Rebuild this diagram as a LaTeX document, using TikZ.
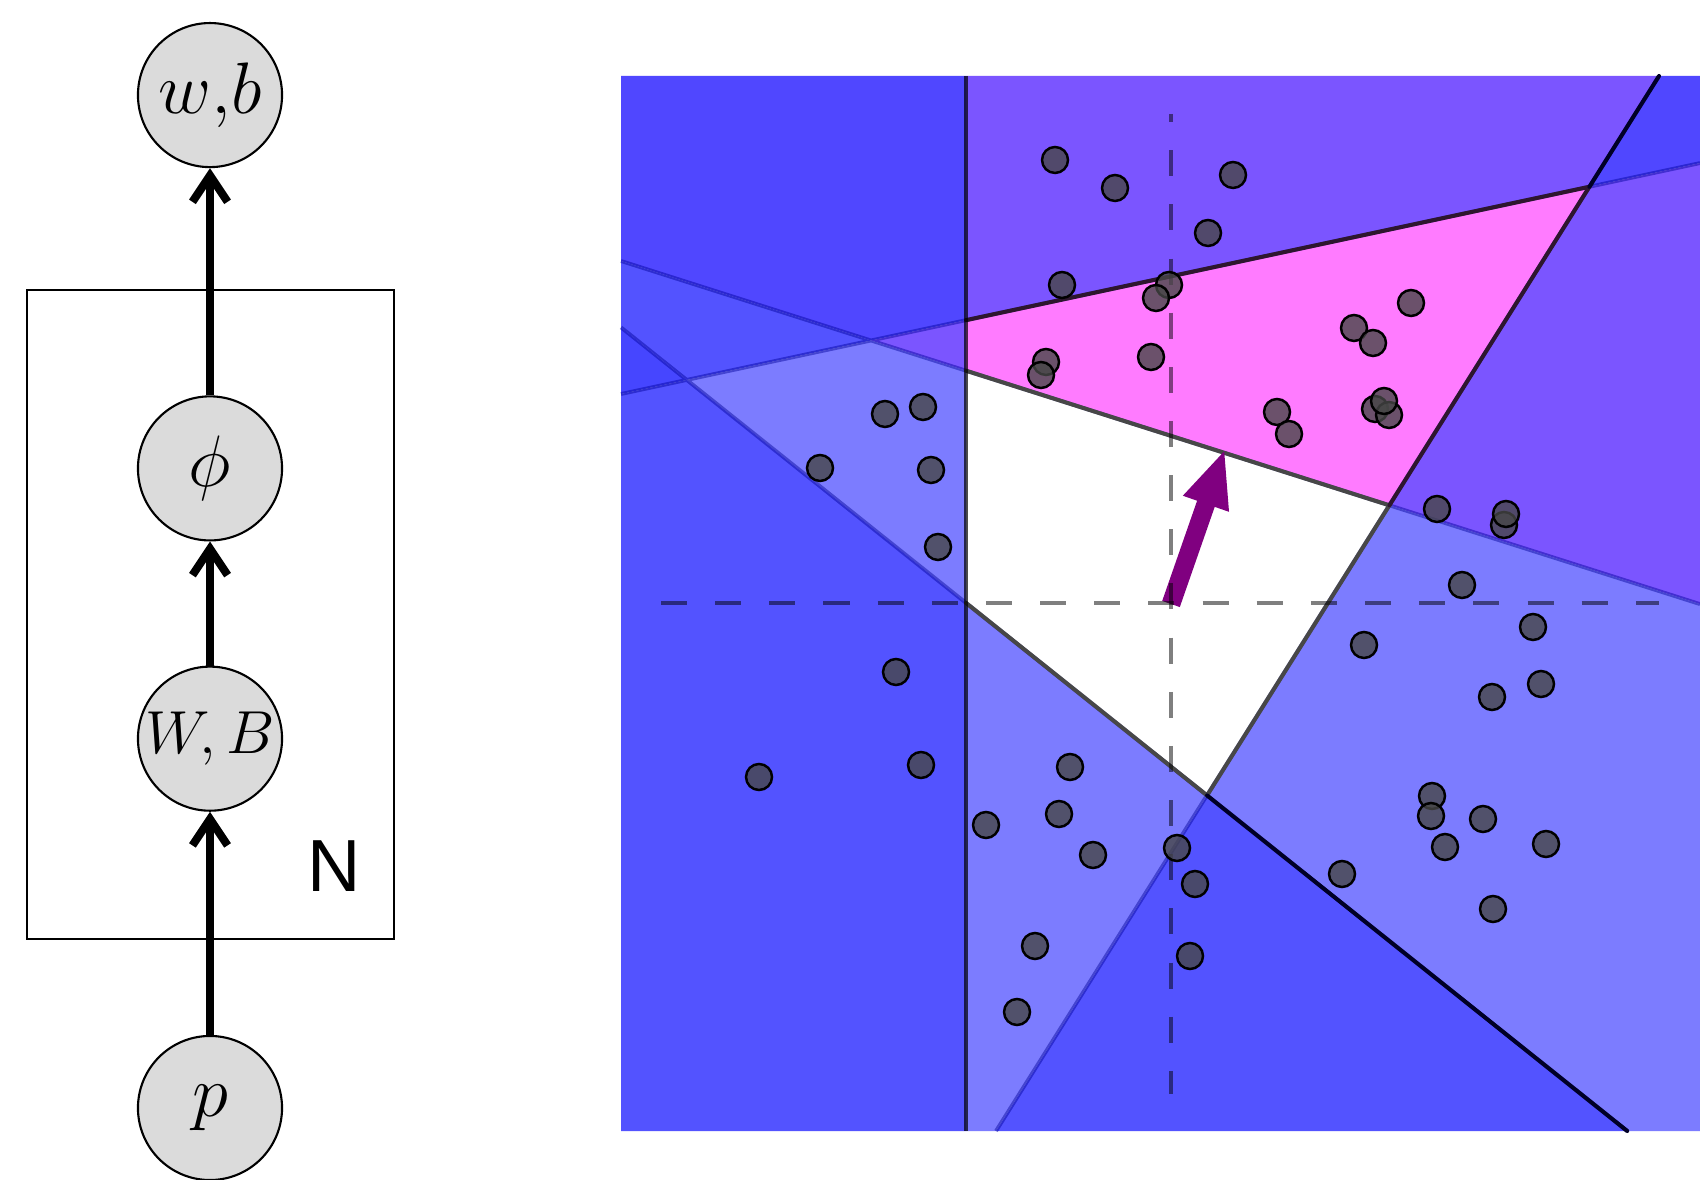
\documentclass[tikz,border=0pt]{standalone}
\usepackage{amsmath}
\usepackage{fontspec}
\newfontfamily\platefont{Liberation Sans}
\usetikzlibrary{arrows.meta, positioning, calc}

\definecolor{oneblue}{HTML}{7C7CFF}
\definecolor{twoblue}{HTML}{5353FF}
\definecolor{threeblue}{HTML}{5047FF}
\definecolor{deepblue}{HTML}{4646FF}
\definecolor{violet}{HTML}{7B55FF}
\definecolor{pinkreg}{HTML}{FF7BFF}
\definecolor{normalcol}{HTML}{800080}

\begin{document}
\begin{tikzpicture}[x=0.01cm, y=-0.01cm,
      latent/.style={circle, draw, line width=0.6pt, fill=black!14,
                     minimum size=1.44cm, inner sep=0pt,
                     font=\fontsize{20.74}{24}\selectfont},
      link/.style={-{Straight Barb[length=7.5pt,width=10pt]}, line width=2.3pt},
      faint/.style={draw=blue!60!black, draw opacity=0.45, line width=1.1pt},
      rim/.style={line width=1.15pt, line cap=round},
      axis/.style={black, opacity=0.5, line width=1.15pt,
                   dash pattern=on 7.4pt off 8pt},
      dot/.style={draw=black, line width=0.7pt, fill=black!72, fill opacity=0.8},
      normal/.style={normalcol, line width=5.3pt,
                     -{Triangle[length=16.5pt,width=12.5pt]}}
    ]
    \fill[white] (0,0) rectangle (1700,1180);
    \useasboundingbox (0,0) rectangle (1700,1180);

    % graphical model
    \node[latent] (p) at (210,1108) {$p$};
    \node[latent, above=2.23cm of p, font=\fontsize{17.28}{21}\selectfont]
          (WB) {$W, B$};
    \node[latent, above=1.24cm of WB] (phi) {$\phi$};
    \node[latent, above=2.27cm of phi] (wb) {$w{,}b$};
    \draw[line width=0.6pt] (27,290) rectangle (394,939);
    \node[font=\platefont\fontsize{21}{25}\selectfont] (N) at (334,866) {N};
    \draw[link] (p) -- (WB);
    \draw[link] (WB) -- (phi);
    \draw[link] (phi) -- (wb);

    % constraint lines
    \coordinate (tl) at (621,76);   \coordinate (tr) at (1700,76);
    \coordinate (bl) at (621,1131); \coordinate (br) at (1700,1131);
    \coordinate (vT) at (966,76);   \coordinate (vB) at (966,1131);
    \coordinate (bL) at (621,261);  \coordinate (bR) at (1700,604.1);
    \coordinate (cL) at (621,394);  \coordinate (cR) at (1700,163.1);
    \coordinate (dT) at (1659,76);  \coordinate (dB) at (996,1131);
    \coordinate (eL) at (621,327.4);\coordinate (eB) at (1627.2,1131);
    \coordinate (bc) at (intersection of bL--bR and cL--cR);
    \coordinate (ec) at (intersection of eL--eB and cL--cR);
    \coordinate (bv) at (intersection of bL--bR and vT--vB);
    \coordinate (cv) at (intersection of cL--cR and vT--vB);
    \coordinate (ev) at (intersection of eL--eB and vT--vB);
    \coordinate (bd) at (intersection of bL--bR and dT--dB);
    \coordinate (cd) at (intersection of cL--cR and dT--dB);
    \coordinate (de) at (intersection of dT--dB and eL--eB);

    \fill[threeblue] (tl) -- (vT) -- (cv) -- (bc) -- (bL) -- cycle;
    \fill[twoblue] (bL) -- (bc) -- (ec) -- (eL) -- cycle;
    \fill[deepblue] (eL) -- (ec) -- (cL) -- cycle;
    \fill[violet] (bc) -- (cv) -- (bv) -- cycle;
    \fill[oneblue] (ec) -- (bc) -- (bv) -- (ev) -- cycle;
    \fill[twoblue] (cL) -- (ec) -- (ev) -- (vB) -- (bl) -- cycle;
    \fill[pinkreg] (cv) -- (cd) -- (bd) -- (bv) -- cycle;
    \fill[violet] (vT) -- (dT) -- (cd) -- (cv) -- cycle;
    \fill[threeblue] (dT) -- (tr) -- (cR) -- (cd) -- cycle;
    \fill[violet] (cd) -- (cR) -- (bR) -- (bd) -- cycle;
    \fill[oneblue] (bd) -- (bR) -- (br) -- (eB) -- (de) -- cycle;
    \fill[twoblue] (de) -- (eB) -- (dB) -- cycle;
    \fill[oneblue] (ev) -- (de) -- (dB) -- (vB) -- cycle;

    \draw[faint] (bL) -- (bR) (cL) -- (cR) (dT) -- (dB) (eL) -- (eB);
    \draw[rim, black!72] (bv) -- (bd) -- (de) -- (ev);
    \draw[rim, black!70!pinkreg!60!black] (cv) -- (cd) -- (bd);
    \draw[rim, black!85!blue] (dT) -- (cd) (de) -- (eB);
    \draw[line width=1.15pt, black, opacity=0.7] (vT) -- (vB);

    % normal vector and axes
    \coordinate (o) at (1171,604);
    \coordinate (tip) at (1225,449);
    \draw[normal] (o) -- (tip);
    \coordinate (axL) at (661,603);  \coordinate (axR) at (1659,603);
    \coordinate (axT) at (1171,114); \coordinate (axB) at (1171,1094);
    \draw[axis] (axL) -- (axR);
    \draw[axis, dash phase=5.1pt] (axT) -- (axB);

    % data points
    \foreach \x/\y in {1055/160, 1115/188, 1233/175, 1208/233, 1062/285,
        1169/285, 1156/298, 1151/357, 1046/362, 1041/375, 1411/303,
        1354/328, 1373/343, 1277/412, 1289/434, 1375/409, 1389/415,
        1384/401, 885/414, 923/407, 820/468, 931/470, 938/547, 1437/509,
        1504/525, 1506/514, 1462/585, 1533/627, 1364/645, 1541/684,
        1492/697, 896/672, 759/777, 921/765, 1070/767, 1059/814, 986/825,
        1093/855, 1177/848, 1195/884, 1190/956, 1035/946, 1017/1012,
        1432/796, 1431/816, 1483/819, 1445/847, 1546/844, 1342/874,
        1493/909}
      \draw[dot] (\x,\y) circle[radius=0.13cm];
  \end{tikzpicture}
\end{document}
